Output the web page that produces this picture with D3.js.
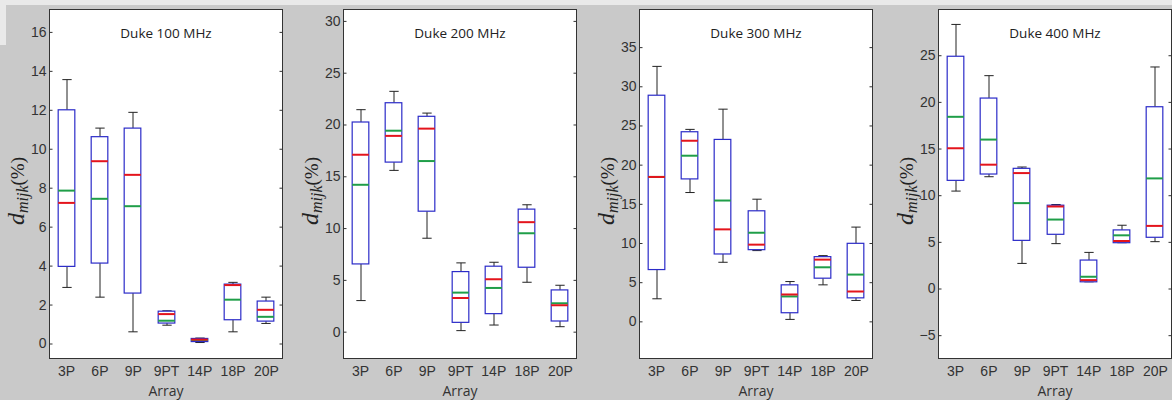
<!DOCTYPE html>
<html><head><meta charset="utf-8">
<script src="https://cdn.jsdelivr.net/npm/d3@7/dist/d3.min.js"></script>
<style>body{margin:0;background:#c9c9c9;}svg{display:block}</style>
</head><body><svg id="chart" width="1172" height="400"></svg>
<script>
const categories = ["3P","6P","9P","9PT","14P","18P","20P"];
const titles = ["Duke 100 MHz","Duke 200 MHz","Duke 300 MHz","Duke 400 MHz"];

// Duke 100 MHz
const mhz100_low    = [2.88, 2.38, 0.60, 0.94, 0.05, 0.60, 1.03];
const mhz100_q1     = [3.96, 4.13, 2.59, 1.05, 0.10, 1.22, 1.15];
const mhz100_median = [7.22, 9.36, 8.66, 1.51, 0.20, 3.00, 1.73];
const mhz100_mean   = [7.85, 7.43, 7.05, 1.17, 0.18, 2.25, 1.37];
const mhz100_q3     = [12.00, 10.62, 11.06, 1.66, 0.26, 3.05, 2.18];
const mhz100_high   = [13.55, 11.06, 11.87, 1.68, 0.28, 3.14, 2.38];
const mhz100_ticks  = [0, 2, 4, 6, 8, 10, 12, 14, 16];

// Duke 200 MHz
const mhz200_low    = [3.00, 15.57, 9.02, 0.10, 0.64, 4.77, 0.48];
const mhz200_q1     = [6.54, 16.37, 11.63, 0.90, 1.74, 6.22, 1.03];
const mhz200_median = [17.08, 18.90, 19.60, 3.25, 5.06, 10.57, 2.55];
const mhz200_mean   = [14.18, 19.40, 16.47, 3.77, 4.22, 9.50, 2.74];
const mhz200_q3     = [20.24, 22.10, 20.79, 5.80, 6.32, 11.83, 4.03];
const mhz200_high   = [21.43, 23.20, 21.10, 6.64, 6.70, 12.25, 4.48];
const mhz200_ticks  = [0, 5, 10, 15, 20, 25, 30];

// Duke 300 MHz
const mhz300_low    = [2.88, 16.44, 7.54, 9.03, 0.25, 4.66, 2.67];
const mhz300_q1     = [6.61, 18.18, 8.60, 9.15, 1.10, 5.51, 3.00];
const mhz300_median = [18.43, 23.05, 11.74, 9.79, 3.43, 7.88, 3.81];
const mhz300_mean   = [18.43, 21.14, 15.42, 11.31, 3.18, 6.90, 5.97];
const mhz300_q3     = [28.86, 24.20, 23.22, 14.11, 4.66, 8.26, 9.96];
const mhz300_high   = [32.54, 24.50, 27.08, 15.59, 5.08, 8.39, 12.03];
const mhz300_ticks  = [0, 5, 10, 15, 20, 25, 30, 35];

// Duke 400 MHz
const mhz400_low    = [10.44, 11.98, 2.69, 4.81, 0.72, 4.91, 5.02];
const mhz400_q1     = [11.59, 12.27, 5.16, 5.81, 0.72, 4.91, 5.49];
const mhz400_median = [15.03, 13.27, 12.37, 8.79, 0.90, 5.09, 6.71];
const mhz400_mean   = [18.40, 15.96, 9.15, 7.39, 1.26, 5.70, 11.80];
const mhz400_q3     = [24.89, 20.41, 12.88, 8.93, 3.05, 6.28, 19.48];
const mhz400_high   = [28.30, 22.81, 13.02, 9.00, 3.87, 6.78, 23.74];
const mhz400_ticks  = [-5, 0, 5, 10, 15, 20, 25];

const yLimits = [[-0.77, 17.15], [-2.59, 31.1], [-4.74, 39.8], [-7.5, 29.9]];

const panels = [
  {title: titles[0], low: mhz100_low, q1: mhz100_q1, median: mhz100_median, mean: mhz100_mean, q3: mhz100_q3, high: mhz100_high, ticks: mhz100_ticks, lim: yLimits[0]},
  {title: titles[1], low: mhz200_low, q1: mhz200_q1, median: mhz200_median, mean: mhz200_mean, q3: mhz200_q3, high: mhz200_high, ticks: mhz200_ticks, lim: yLimits[1]},
  {title: titles[2], low: mhz300_low, q1: mhz300_q1, median: mhz300_median, mean: mhz300_mean, q3: mhz300_q3, high: mhz300_high, ticks: mhz300_ticks, lim: yLimits[2]},
  {title: titles[3], low: mhz400_low, q1: mhz400_q1, median: mhz400_median, mean: mhz400_mean, q3: mhz400_q3, high: mhz400_high, ticks: mhz400_ticks, lim: yLimits[3]}
];

const svg = d3.select("#chart");
svg.append("rect").attr("width", 1172).attr("height", 400).attr("fill", "#c9c9c9");
svg.append("rect").attr("width", 1172).attr("height", 5).attr("fill", "#e9e9e9");
svg.append("rect").attr("width", 6).attr("height", 45).attr("fill", "#e9e9e9");

const lefts = [49.5, 343.5, 639.5, 938.5];
const W = 233, plotTop = 9.5, plotBottom = 358.5, H = plotBottom - plotTop;

const BLUE = "#2b2bc8", RED = "#e4141c", GREEN = "#1f9e48", BLACK = "#222";

panels.forEach((p, pi) => {
  const g = svg.append("g").attr("transform", `translate(${lefts[pi]},${plotTop})`);
  const x = d3.scalePoint().domain(categories).range([0, W]).padding(0.5);
  const y = d3.scaleLinear().domain(p.lim).range([H, 0]);
  const step = x.step();
  const bw = step * 0.5, cw = step * 0.25;

  g.append("rect").attr("width", W).attr("height", H).attr("fill", "#fff");

  const rows = categories.map((c, i) => ({c, lo: p.low[i], q1: p.q1[i], med: p.median[i], mean: p.mean[i], q3: p.q3[i], hi: p.high[i]}));

  const bx = g.selectAll(".bx").data(rows).join("g").attr("class", "bx")
    .attr("transform", d => `translate(${Math.round(x(d.c))},0)`);

  // whiskers
  bx.append("line").attr("x1", 0.5).attr("x2", 0.5)
    .attr("y1", d => y(d.q3)).attr("y2", d => y(d.hi)).attr("stroke", BLACK).attr("stroke-width", 1);
  bx.append("line").attr("x1", 0.5).attr("x2", 0.5)
    .attr("y1", d => y(d.q1)).attr("y2", d => y(d.lo)).attr("stroke", BLACK).attr("stroke-width", 1);
  bx.append("line").attr("x1", -cw / 2).attr("x2", cw / 2 + 1)
    .attr("y1", d => y(d.hi)).attr("y2", d => y(d.hi)).attr("stroke", BLACK).attr("stroke-width", 1);
  bx.append("line").attr("x1", -cw / 2).attr("x2", cw / 2 + 1)
    .attr("y1", d => y(d.lo)).attr("y2", d => y(d.lo)).attr("stroke", BLACK).attr("stroke-width", 1);

  // box
  bx.append("rect").attr("x", -bw / 2).attr("width", bw)
    .attr("y", d => y(d.q3)).attr("height", d => Math.max(0.5, y(d.q1) - y(d.q3)))
    .attr("fill", "#fff").attr("stroke", BLUE).attr("stroke-width", 1.2);

  // mean (green) then median (red)
  bx.append("line").attr("x1", -bw / 2).attr("x2", bw / 2)
    .attr("y1", d => y(d.mean)).attr("y2", d => y(d.mean)).attr("stroke", GREEN).attr("stroke-width", 2);
  bx.append("line").attr("x1", -bw / 2).attr("x2", bw / 2)
    .attr("y1", d => y(d.med)).attr("y2", d => y(d.med)).attr("stroke", RED).attr("stroke-width", 2);

  // y axis left
  const ya = g.append("g").call(d3.axisLeft(y).tickValues(p.ticks).tickSize(-3).tickPadding(3).tickFormat(d3.format("d")));
  ya.select(".domain").remove();
  ya.selectAll("line").attr("stroke", "#333");
  ya.selectAll("text").attr("font-family", "Liberation Sans, Arial, sans-serif").attr("font-size", 14).attr("fill", "#333");

  const yr = g.append("g").attr("transform", `translate(${W},0)`)
    .call(d3.axisRight(y).tickValues(p.ticks).tickSize(-3).tickFormat(""));
  yr.select(".domain").remove();
  yr.selectAll("line").attr("stroke", "#333");

  // x axis
  const xa = g.append("g").attr("transform", `translate(0,${H})`)
    .call(d3.axisBottom(x).tickSize(0).tickPadding(8));
  xa.select(".domain").remove();
  xa.selectAll("text").attr("font-family", "Liberation Sans, Arial, sans-serif").attr("font-size", 14).attr("fill", "#333");

  // border
  g.append("rect").attr("width", W).attr("height", H).attr("fill", "none").attr("stroke", "#333").attr("stroke-width", 1);

  // title
  g.append("text").attr("x", W / 2).attr("y", 28).attr("text-anchor", "middle")
    .attr("font-family", "Open Sans, sans-serif").attr("font-size", 13.5).attr("fill", "#222").text(p.title);

  // x label
  g.append("text").attr("x", W / 2).attr("y", 395.5 - plotTop).attr("text-anchor", "middle")
    .attr("font-family", "Open Sans, sans-serif").attr("font-size", 14).attr("fill", "#333").text("Array");

  // y label
  const yl = g.append("text").attr("transform", `translate(-26,${191 - plotTop}) rotate(-90)`)
    .attr("text-anchor", "middle").attr("font-family", "Liberation Serif, Times New Roman, serif").attr("fill", "#222");
  yl.append("tspan").attr("font-style", "italic").attr("font-size", 24).text("d");
  yl.append("tspan").attr("font-style", "italic").attr("font-size", 16).attr("dy", 4).text("mijk");
  yl.append("tspan").attr("font-size", 19).attr("dy", -4).text("(%)");
});
</script>
</body></html>
